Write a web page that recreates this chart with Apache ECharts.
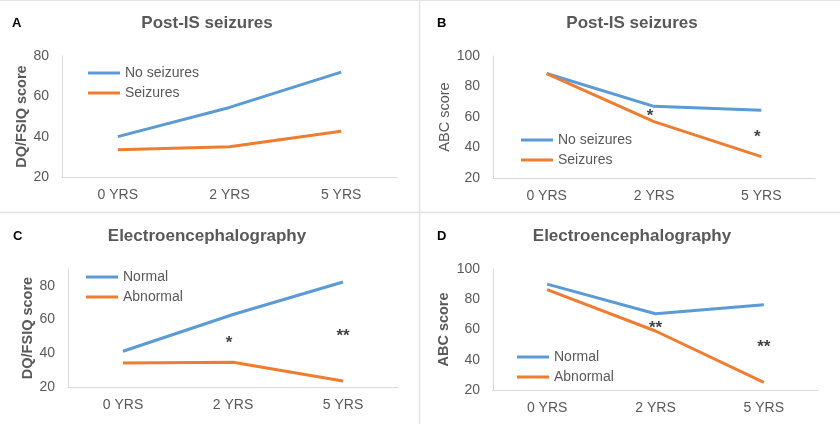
<!DOCTYPE html>
<html>
<head>
<meta charset="utf-8">
<script src="https://cdn.jsdelivr.net/npm/echarts@6/dist/echarts.min.js"></script>
<style>html,body{margin:0;padding:0;background:#fff}#c{width:840px;height:424px}</style>
</head>
<body>
<div id="c"></div>
<script>
const categories = ['0 YRS', '2 YRS', '5 YRS'];
const aNoSeizures = [40, 54.5, 72];
const aSeizures = [33.5, 35, 42.7];
const bNoSeizures = [88.5, 67, 64.5];
const bSeizures = [88.5, 57, 34];
const cNormal = [41.2, 63, 82.3];
const cAbnormal = [34.3, 34.7, 23.5];
const dNormal = [90, 70.4, 76.3];
const dAbnormal = [86.3, 59, 25];
const bStars = [['2 YRS', 63, '*'], ['5 YRS', 49, '*']];
const cStars = [['2 YRS', 48, '*'], ['5 YRS', 52.4, '**']];
const dStars = [['2 YRS', 63.4, '**'], ['5 YRS', 51, '**']];
const titles = ['Post-IS seizures', 'Post-IS seizures', 'Electroencephalography', 'Electroencephalography'];
const panelLetters = ['A', 'B', 'C', 'D'];
const yNames = ['DQ/FSIQ score', 'ABC score', 'DQ/FSIQ score', 'ABC score'];

const FONT = 'Arial, "Liberation Sans", sans-serif';
const BLUE = '#5B9BD5', ORANGE = '#ED7D31', GREY = '#595959', AXIS = '#d9d9d9';

const grids = [
  {left: 62, right: 443, top: 56, bottom: 247},
  {left: 493, right: 25, top: 56, bottom: 246},
  {left: 68, right: 442, top: 269, bottom: 37},
  {left: 493, right: 22, top: 269, bottom: 34}
];
const yRanges = [[20, 80, 20], [20, 100, 20], [20, 90, 20], [20, 100, 20]];
const yNameGaps = [33, 41, 23, 42];
const yNameBold = ['bold', 'normal', 'bold', 'bold'];

const xAxis = grids.map((g, i) => ({
  type: 'category', gridIndex: i, data: categories, boundaryGap: true,
  axisTick: {show: false},
  axisLine: {lineStyle: {color: AXIS, width: 1}},
  axisLabel: {fontFamily: FONT, fontSize: 14, color: GREY, margin: 11}
}));
const yAxis = grids.map((g, i) => ({
  type: 'value', gridIndex: i, min: yRanges[i][0], max: yRanges[i][1], interval: yRanges[i][2],
  splitLine: {show: false},
  axisTick: {show: false},
  axisLine: {show: true, lineStyle: {color: AXIS, width: 1}},
  axisLabel: {fontFamily: FONT, fontSize: 14, color: GREY, margin: 13, showMaxLabel: i === 2 ? false : true},
  name: yNames[i], nameLocation: 'middle', nameGap: yNameGaps[i], nameRotate: 90,
  nameTextStyle: {fontFamily: FONT, fontSize: 14.5, color: GREY, fontWeight: yNameBold[i]}
}));

function lineSeries(name, data, color, idx) {
  return {
    type: 'line', name: name, data: data, xAxisIndex: idx, yAxisIndex: idx,
    symbol: 'none', showSymbol: false, color: color,
    lineStyle: {color: color, width: 3}, silent: true, animation: false
  };
}
function starSeries(stars, idx) {
  return {
    type: 'scatter', xAxisIndex: idx, yAxisIndex: idx, symbol: 'circle', symbolSize: 1,
    itemStyle: {color: 'rgba(0,0,0,0)'},
    silent: true, animation: false,
    data: stars.map(s => ({
      value: [s[0], s[1]],
      label: {show: true, formatter: s[2], position: 'inside',
        offset: [s[2] === '*' ? -4 : 0, 4],
        fontFamily: FONT, fontSize: 17, fontWeight: 'bold', color: '#111'}
    }))
  };
}

const series = [
  lineSeries('No seizures', aNoSeizures, BLUE, 0),
  lineSeries('Seizures', aSeizures, ORANGE, 0),
  lineSeries('No seizures', bNoSeizures, BLUE, 1),
  lineSeries('Seizures', bSeizures, ORANGE, 1),
  lineSeries('Normal', cNormal, BLUE, 2),
  lineSeries('Abnormal', cAbnormal, ORANGE, 2),
  lineSeries('Normal', dNormal, BLUE, 3),
  lineSeries('Abnormal', dAbnormal, ORANGE, 3),
  starSeries(bStars, 1),
  starSeries(cStars, 2),
  starSeries(dStars, 3)
];

const legendPos = [[88, 63], [521, 130], [86, 267], [517, 347]];
const legendNames = [['No seizures', 'Seizures'], ['No seizures', 'Seizures'], ['Normal', 'Abnormal'], ['Normal', 'Abnormal']];
const legend = legendPos.map((p, i) => ({
  left: p[0], top: p[1], orient: 'vertical', padding: 0, itemGap: 0,
  itemWidth: 32, itemHeight: 3, icon: 'rect', selectedMode: false,
  data: legendNames[i],
  textStyle: {fontFamily: FONT, fontSize: 14, color: GREY, lineHeight: 20}
}));

const titleCenters = [[207, 23], [632, 23], [207, 236], [632, 236]];
const letterPos = [[12, 23], [437, 23], [13, 236], [437, 236]];
const graphic = [];
titleCenters.forEach((c, i) => {
  graphic.push({type: 'text', x: c[0], y: c[1], silent: true,
    style: {text: titles[i], font: 'bold 17px ' + FONT, fill: GREY, align: 'center', verticalAlign: 'middle'}});
});
letterPos.forEach((c, i) => {
  graphic.push({type: 'text', x: c[0], y: c[1], silent: true,
    style: {text: panelLetters[i], font: 'bold 13px ' + FONT, fill: '#000', align: 'left', verticalAlign: 'middle'}});
});
graphic.push({type: 'line', silent: true, shape: {x1: 419.5, y1: 0, x2: 419.5, y2: 424}, style: {stroke: '#e3e3e3', lineWidth: 1.5}});
graphic.push({type: 'line', silent: true, shape: {x1: 0, y1: 212.5, x2: 840, y2: 212.5}, style: {stroke: '#e3e3e3', lineWidth: 1.5}});
graphic.push({type: 'line', silent: true, shape: {x1: 0, y1: 0.5, x2: 840, y2: 0.5}, style: {stroke: '#e3e3e3', lineWidth: 1}});

const chart = echarts.init(document.getElementById('c'), null, {renderer: 'canvas'});
chart.setOption({
  animation: false,
  backgroundColor: '#fff',
  grid: grids, xAxis: xAxis, yAxis: yAxis, series: series, legend: legend, graphic: graphic
});
</script>
</body>
</html>
